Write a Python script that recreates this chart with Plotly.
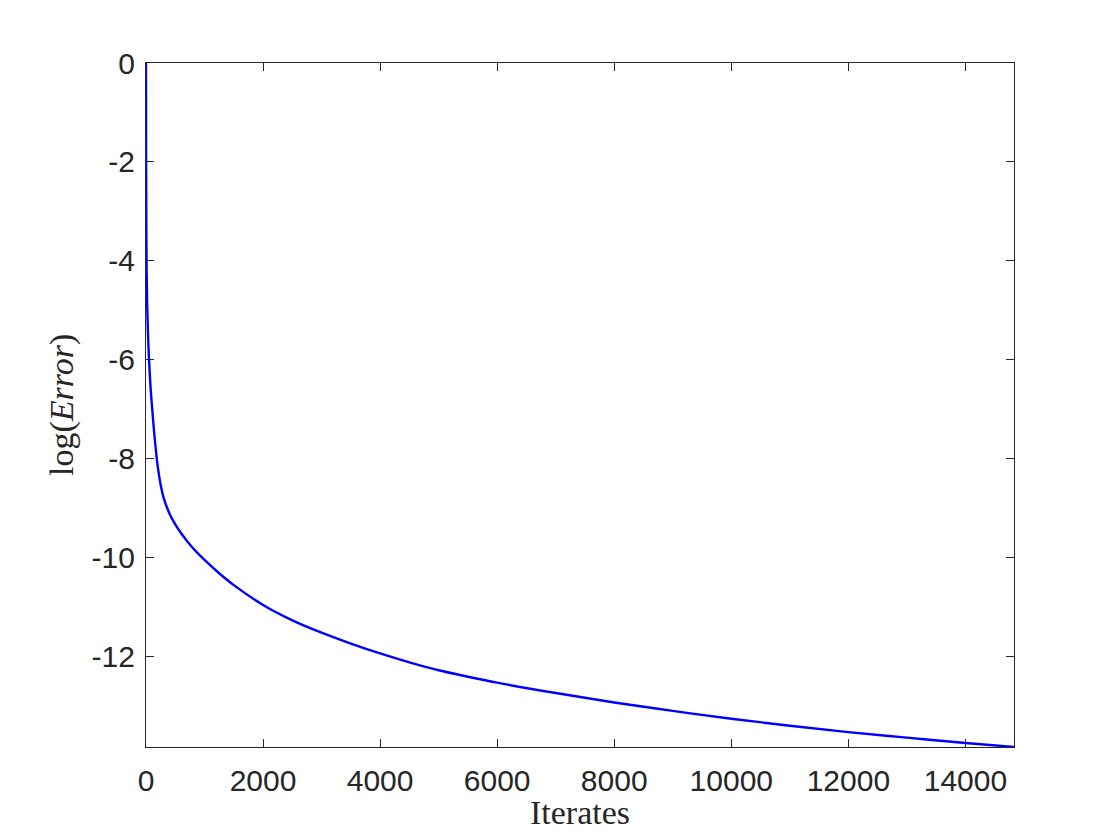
import plotly.graph_objects as go

iterates = [0, 2, 5, 10, 20, 35, 50, 75, 100, 150, 200, 250, 300, 400, 500, 600,
            800, 1000, 1250, 1500, 2000, 2500, 3000, 3500, 4000, 4500, 5000, 5500,
            6000, 7000, 8000, 9000, 10000, 11000, 12000, 13000, 14000, 14830]
log_error = [0.0, -2.0, -3.2, -4.1, -4.9, -5.5, -5.95, -6.5, -6.9, -7.6, -8.15,
             -8.52, -8.78, -9.1, -9.32, -9.5, -9.8, -10.04, -10.31, -10.55, -10.95,
             -11.26, -11.51, -11.73, -11.93, -12.11, -12.27, -12.40, -12.52, -12.73,
             -12.92, -13.09, -13.25, -13.39, -13.52, -13.63, -13.74, -13.82]

x_ticks = [0, 2000, 4000, 6000, 8000, 10000, 12000, 14000]
y_ticks = [-12, -10, -8, -6, -4, -2, 0]

axis_color = "#262626"

fig = go.Figure()
fig.add_trace(go.Scatter(
    x=iterates, y=log_error, mode="lines",
    line=dict(color="#0000FF", width=2.4, shape="spline", smoothing=1.0),
    showlegend=False,
))

common = dict(
    showgrid=False, zeroline=False, showline=True, linecolor=axis_color,
    linewidth=1.2, mirror="ticks", ticks="inside", ticklen=8, tickwidth=1.2,
    tickcolor=axis_color,
    tickfont=dict(family="Liberation Sans, Arial, sans-serif", size=30, color=axis_color),
)

fig.update_xaxes(range=[0, 14830], tickvals=x_ticks, ticktext=[str(v) for v in x_ticks],
                 ticklabelstandoff=7, **common)
fig.update_yaxes(range=[-13.82, 0], tickvals=y_ticks, ticktext=[str(v) for v in y_ticks],
                 ticklabelstandoff=4, **common)

fig.add_annotation(
    text="Iterates", xref="paper", yref="paper", x=0.5, y=0, yshift=-65,
    xanchor="center", yanchor="middle", showarrow=False,
    font=dict(family="Liberation Serif, Times New Roman, serif", size=34, color=axis_color),
)
fig.add_annotation(
    text="log(<i>Error</i>)", xref="paper", yref="paper", x=0, y=0.5, xshift=-84,
    xanchor="center", yanchor="middle", textangle=-90, showarrow=False,
    font=dict(family="Liberation Serif, Times New Roman, serif", size=34, color=axis_color),
)

fig.update_layout(
    width=1120, height=840,
    margin=dict(l=138, r=114, t=55, b=101),
    paper_bgcolor="white", plot_bgcolor="white",
)

fig.write_html("out.html")
